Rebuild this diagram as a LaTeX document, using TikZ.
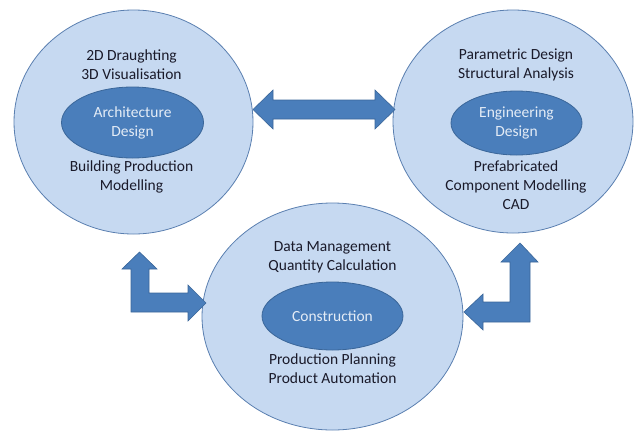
\documentclass[tikz,border=0pt]{standalone}
\usepackage{fontspec}
\setmainfont{Carlito}
\usetikzlibrary{shapes.geometric}
\definecolor{outerfill}{HTML}{C6D9F1}
\definecolor{outerline}{HTML}{5A7FB0}
\definecolor{innerfill}{HTML}{4A7EBB}
\definecolor{innerline}{HTML}{3A6699}
\definecolor{innertext}{HTML}{E4ECF6}
\definecolor{bodytext}{HTML}{1A1A2A}
\tikzset{
  outer/.style={ellipse, draw=outerline, fill=outerfill, line width=0.8pt, inner sep=0pt},
  inner/.style={ellipse, draw=innerline, fill=innerfill, line width=0.8pt, inner sep=0pt},
  innerlabel/.style={text=innertext, font=\fontsize{15.5}{19}\selectfont, align=center, inner sep=0pt},
  label/.style={text=bodytext, font=\fontsize{15.5}{19}\selectfont, align=center, inner sep=0pt},
  blockarrow/.style={fill=innerfill, draw=innerline, line width=0.6pt, line join=miter},
}
\begin{document}
\begin{tikzpicture}[x=1pt,y=-1pt]
\useasboundingbox (0,0) rectangle (635,432);
% outer circles
\node[outer, minimum width=239pt, minimum height=224pt] (A) at (133.5,122) {};
\node[outer, minimum width=240pt, minimum height=223pt] (E) at (513,121.5) {};
\node[outer, minimum width=261pt, minimum height=227pt] (C) at (332.5,316.5) {};
% inner ellipses
\node[inner, minimum width=142pt, minimum height=71pt] (Ai) at (132.5,122.5) {};
\node[inner, minimum width=131pt, minimum height=64pt] (Ei) at (516.5,123) {};
\node[inner, minimum width=141pt, minimum height=68pt] (Ci) at (332.5,316) {};
% inner labels
\node[innerlabel] (At) at (Ai) {Architecture\\Design};
\node[innerlabel] (Et) at (Ei) {Engineering\\Design};
\node[innerlabel] (Ct) at (Ci) {Construction};
% outer labels
\node[label] (A1) at (131.5,65) {2D Draughting\\3D Visualisation};
\node[label] (A2) at (131.5,176.5) {Building Production\\Modelling};
\node[label] (E1) at (516,65) {Parametric Design\\Structural Analysis};
\node[label] (E2) at (516,185.5) {Prefabricated\\Component Modelling\\CAD};
\node[label] (C1) at (332.5,257.5) {Data Management\\Quantity Calculation};
\node[label] (C2) at (332.5,368.5) {Production Planning\\Product Automation};
% double arrow between A and E
\draw[blockarrow] (253,109.5) -- (273,90) -- (273,100) -- (375,100) -- (375,90)
  -- (395,109.5) -- (375,129) -- (375,119) -- (273,119) -- (273,129) -- cycle;
% left L arrow
\draw[blockarrow] (139.5,252) -- (157,269) -- (149,269) -- (149,293) -- (188,293)
  -- (188,285) -- (206,303) -- (188,321) -- (188,312) -- (131,312) -- (131,269)
  -- (122,269) -- cycle;
% right L arrow
\draw[blockarrow] (520,243) -- (538,262) -- (530,262) -- (530,322) -- (483,322)
  -- (483,330) -- (464,312) -- (483,294) -- (483,302) -- (510,302) -- (510,262)
  -- (501,262) -- cycle;
\end{tikzpicture}
\end{document}
